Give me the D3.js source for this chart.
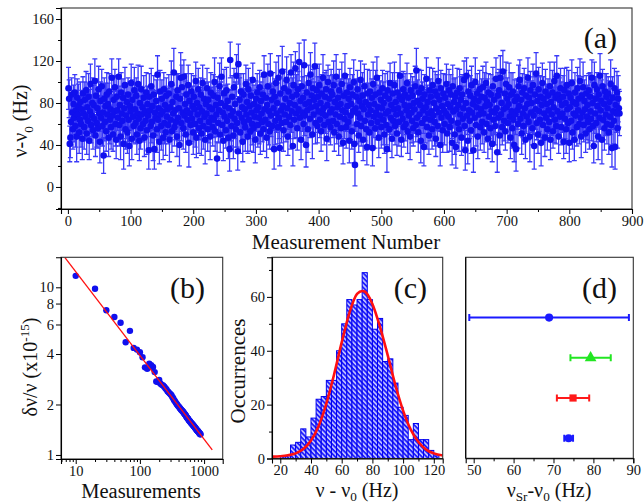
<!DOCTYPE html>
<html>
<head>
<meta charset="utf-8">
<script src="https://cdn.jsdelivr.net/npm/d3@7"></script>
<style>
  body { margin: 0; background: #fff; }
  svg text { font-family: "Liberation Serif", "DejaVu Serif", "Times New Roman", serif; }
</style>
</head>
<body>
<div id="chart"></div>
<script>
// ---------- (a) nu - nu0 for each measurement (Hz) and its error bar ----------
const freqA = [
  94, 84, 41, 47, 62, 88, 71, 55, 79, 66, 90, 58, 73, 48, 85, 69, 77, 52, 64, 81,
  60, 74, 46, 89, 70, 57, 83, 67, 92, 51, 76, 63, 86, 44, 72, 98, 59, 68, 80, 54,
  78, 65, 101, 49, 87, 61, 75, 56, 93, 70, 43, 82, 66, 96, 58, 71, 30, 84, 62, 77,
  53, 88, 69, 79, 47, 91, 64, 74, 57, 104, 68, 50, 83, 72, 95, 60, 45, 86, 73, 66,
  105, 59, 78, 48, 90, 70, 63, 85, 41, 75, 97, 55, 68, 81, 52, 88, 64, 39, 77, 72,
  99, 46, 83, 67, 58, 92, 74, 61, 87, 50, 70, 98, 65, 44, 80, 56, 93, 69, 76, 60,
  85, 47, 72, 63, 90, 54, 79, 68, 35, 86, 73, 58, 96, 62, 77, 49, 88, 36, 71, 66,
  82, 55, 107, 64, 75, 43, 91, 69, 58, 84, 72, 47, 93, 61, 78, 52, 87, 67, 74, 59,
  89, 45, 76, 64, 98, 53, 81, 70, 109, 57, 73, 62, 86, 48, 92, 66, 75, 40, 84, 104,
  61, 95, 71, 56, 105, 68, 79, 50, 88, 73, 64, 97, 42, 82, 70, 59, 91, 65, 77, 52,
  86, 74, 60, 101, 47, 80, 69, 93, 56, 76, 63, 88, 51, 72, 99, 58, 84, 67, 45, 79,
  70, 94, 55, 83, 62, 76, 48, 90, 66, 74, 57, 87, 64, 100, 53, 78, 69, 27, 85, 61,
  73, 96, 50, 80, 105, 59, 71, 44, 89, 67, 77, 54, 92, 63, 82, 47, 75, 36, 121, 68,
  58, 86, 72, 49, 95, 65, 79, 55, 106, 61, 34, 117, 70, 83, 52, 91, 66, 76, 43, 88,
  62, 74, 57, 98, 69, 81, 48, 93, 64, 77, 53, 87, 71, 60, 102, 56, 79, 67, 45, 84,
  73, 90, 59, 76, 66, 95, 51, 82, 70, 62, 88, 55, 107, 74, 64, 85, 47, 78, 96, 60,
  72, 53, 108, 68, 83, 58, 91, 75, 36, 86, 63, 99, 70, 80, 57, 104, 66, 37, 89, 73,
  61, 110, 77, 54, 94, 69, 84, 62, 102, 75, 48, 91, 67, 80, 59, 109, 72, 86, 39, 97,
  64, 78, 113, 70, 88, 56, 93, 74, 119, 66, 82, 45, 96, 71, 85, 60, 116, 68, 79, 40,
  90, 73, 55, 99, 81, 65, 107, 76, 87, 50, 94, 69, 83, 115, 61, 77, 92, 58, 86, 72,
  97, 64, 80, 53, 89, 70, 104, 75, 59, 86, 68, 93, 46, 78, 100, 62, 84, 71, 57, 91,
  74, 88, 63, 97, 52, 81, 69, 105, 60, 76, 85, 48, 92, 67, 79, 56, 98, 73, 42, 87,
  65, 106, 71, 57, 90, 77, 62, 84, 44, 95, 68, 79, 53, 88, 72, 100, 41, 21, 75, 86,
  60, 93, 70, 49, 82, 66, 102, 58, 77, 87, 45, 74, 96, 63, 81, 55, 38, 89, 69, 78,
  52, 91, 73, 61, 85, 37, 98, 67, 79, 56, 88, 71, 104, 62, 76, 47, 90, 68, 83, 57,
  75, 94, 64, 80, 50, 87, 70, 59, 36, 92, 72, 84, 55, 99, 66, 78, 46, 89, 63, 74,
  97, 58, 81, 69, 51, 90, 75, 62, 86, 106, 70, 45, 83, 65, 93, 57, 78, 88, 60, 73,
  99, 53, 85, 68, 77, 48, 92, 71, 63, 87, 56, 80, 74, 96, 59, 111, 66, 82, 52, 90,
  69, 78, 44, 94, 61, 84, 73, 38, 88, 65, 76, 103, 57, 81, 70, 49, 92, 64, 86, 72,
  55, 97, 68, 80, 62, 91, 46, 75, 87, 58, 101, 71, 83, 40, 94, 66, 77, 54, 89, 73,
  60, 85, 70, 98, 51, 79, 67, 92, 57, 76, 88, 63, 42, 96, 72, 81, 50, 86, 38, 74,
  90, 61, 78, 55, 94, 69, 83, 47, 88, 65, 75, 102, 58, 35, 80, 106, 68, 44, 91, 73,
  63, 87, 54, 97, 71, 79, 35, 84, 66, 100, 59, 76, 89, 48, 82, 69, 93, 57, 74, 86,
  62, 95, 70, 52, 85, 77, 99, 60, 81, 46, 90, 67, 78, 56, 88, 72, 41, 96, 64, 83,
  71, 58, 103, 75, 33, 87, 66, 92, 49, 104, 69, 80, 57, 110, 74, 63, 89, 53, 98, 76,
  84, 61, 79, 95, 67, 47, 88, 72, 56, 91, 64, 40, 82, 69, 36, 86, 73, 60, 96, 77,
  102, 65, 83, 51, 90, 70, 58, 94, 75, 45, 87, 67, 79, 104, 62, 85, 48, 92, 71, 80,
  56, 97, 68, 39, 88, 74, 108, 61, 82, 50, 93, 72, 64, 86, 42, 78, 99, 59, 84, 70,
  47, 91, 66, 79, 55, 87, 73, 62, 96, 45, 81, 69, 90, 53, 76, 101, 64, 85, 58, 106,
  72, 88, 48, 83, 67, 94, 57, 78, 70, 86, 43, 92, 65, 80, 55, 97, 74, 61, 89, 42,
  76, 85, 63, 99, 52, 81, 70, 45, 90, 68, 79, 57, 94, 73, 84, 60, 101, 66, 48, 87,
  71, 95, 59, 82, 74, 51, 89, 67, 78, 62, 92, 55, 86, 72, 65, 104, 80, 58, 39, 97,
  70, 84, 61, 93, 77, 48, 88, 66, 106, 73, 82, 45, 96, 64, 79, 56, 91, 69, 86, 60,
  75, 89, 52, 81, 67, 98, 59, 37, 85, 72, 63, 94, 38, 78, 70, 90, 56, 84, 75, 70
];
const errA = [
  20,18,17,19,22,16,21,19,18,23,17,20,19,24,18,16,21,20,17,19,22,18,20,16,19,21,17,23,18,20,19,16,22,18,21,19,17,20,24,18,
  19,17,21,20,16,23,18,19,22,17,20,18,21,16,19,25,17,20,18,22,19,21,16,20,18,17,23,19,21,18,20,16,22,19,17,21,18,20,19,23,
  17,20,18,22,19,16,21,18,24,20,17,19,22,18,20,16,21,19,23,17,18,20,19,21,16,22,18,20,17,19,25,18,21,19,16,20,22,18,19,17,
  21,18,20,16,19,23,17,20,18,22,19,21,17,20,16,24,18,19,21,17,20,22,18,19,16,21,20,17,23,18,19,21,16,20,18,22,17,19,20,18,
  18,21,19,17,22,20,16,19,23,18,20,17,21,19,16,22,18,20,19,24,17,21,18,20,16,19,22,17,20,18,21,19,23,16,20,18,17,22,19,21,
  20,16,22,18,19,21,17,20,24,19,18,16,21,20,17,22,19,18,23,20,16,19,21,17,20,18,22,19,16,21,18,20,17,23,19,18,21,16,20,19,
  19,22,17,20,18,16,21,19,23,18,20,17,22,19,16,20,18,21,17,24,19,20,16,22,18,19,21,17,20,23,18,19,16,21,20,17,22,18,19,20,
  17,20,23,18,19,21,16,20,18,22,19,17,21,20,16,23,18,19,22,17,20,18,21,19,25,16,20,18,22,19,17,21,18,20,16,23,19,18,21,20,
  21,17,19,20,16,22,18,21,19,17,23,20,18,19,16,21,20,17,22,18,19,24,16,20,18,21,17,19,22,20,18,16,21,19,23,17,20,18,19,22,
  18,20,16,23,19,21,17,20,18,22,16,19,21,18,20,17,24,19,18,21,16,20,22,17,19,18,21,20,16,23,18,19,17,22,20,18,21,16,19,20,
  20,17,21,19,18,16,22,20,19,23,17,18,21,20,16,19,22,18,17,21,20,19,16,23,18,20,17,21,19,22,16,18,20,19,24,17,21,18,20,16,
  19,21,18,20,17,22,16,19,21,18,23,20,17,19,16,21,18,20,22,17,19,18,21,16,20,23,18,19,17,22,20,16,21,19,18,20,17,23,19,21,
  16,20,19,22,18,17,21,20,16,19,23,18,20,17,21,19,16,22,18,20,19,17,24,20,18,21,16,19,22,18,20,17,21,19,16,23,18,20,19,17,
  22,18,20,16,21,19,17,23,18,20,19,16,22,21,17,19,18,20,16,23,19,21,17,18,20,22,16,19,21,18,17,20,23,19,16,21,18,20,19,22,
  18,19,21,17,20,16,22,18,19,23,17,20,21,16,19,18,22,20,17,21,19,16,20,18,23,19,17,21,20,16,22,18,19,20,17,24,18,21,19,16,
  20,22,17,19,18,21,16,20,23,18,19,17,21,20,16,22,19,18,20,17,23,19,16,21,18,20,22,17,19,16,21,18,20,19,23,17,18,22,20,19,
  17,19,22,18,20,16,21,19,18,23,20,17,19,21,16,20,18,22,19,17,21,20,16,19,24,18,20,17,22,19,18,21,16,20,19,23,17,18,21,20,
  21,18,20,17,19,22,16,20,18,21,19,23,17,20,16,19,22,18,21,17,20,19,16,23,18,20,21,17,19,18,22,16,20,19,21,17,18,23,20,19,
  19,16,21,20,18,23,17,19,22,18,20,16,21,19,17,20,24,18,19,21,16,20,18,22,17,19,20,16,23,18,21,19,17,20,22,18,19,16,21,20,
  18,21,17,19,20,16,22,18,23,19,17,20,21,16,19,18,22,20,17,19,23,18,16,21,20,19,17,22,18,20,16,21,19,18,23,17,20,19,22,18,
  20,17,19,22,16,21,18,20,19,23,17,18,20,16,22,19,21,17,20,18,19,24,16,20,21,18,17,22,19,20,16,19,23,18,21,17,20,19,16,22,
  19,21,18,16,20,22,17,19,21,18,20,23,16,19,18,21,17,20,22,19,18,16,21,20,17,23,19,18,20,16,22,19,21,17,18,20,19,22,18,21
];

// ---------- (b) fractional instability vs number of measurements ----------
const nB = [10, 20, 30, 40, 50, 60, 70, 80, 90, 100, 110, 120, 130, 140, 150, 160, 170, 180, 190, 200,
  210, 220, 230, 240, 250, 260, 270, 280, 290, 300, 310, 320, 330, 340, 350, 360, 370, 380, 390, 400,
  410, 420, 430, 440, 450, 460, 470, 480, 490, 500, 510, 520, 530, 540, 550, 560, 570, 580, 590, 600,
  610, 620, 630, 640, 650, 660, 670, 680, 690, 700, 710, 720, 730, 740, 750, 760, 770, 780, 790, 800,
  810, 820, 830, 840, 850, 860, 870, 880];
const sigB = [11.7, 9.8, 7.3, 6.65, 6.15, 4.7, 5.5, 4.35, 4.25, 4.1, 3.83, 3.33, 3.27, 3.5, 3.43, 3.35, 3.12, 2.74, 2.72, 2.8,
  2.66, 2.62, 2.6, 2.55, 2.5, 2.46, 2.4, 2.37, 2.33, 2.3, 2.27, 2.22, 2.18, 2.13, 2.1, 2.06, 2.03, 2.0, 1.97, 1.95,
  1.93, 1.9, 1.88, 1.86, 1.84, 1.83, 1.81, 1.79, 1.77, 1.75, 1.74, 1.72, 1.69, 1.67, 1.66, 1.65, 1.63, 1.61, 1.6, 1.59,
  1.58, 1.56, 1.55, 1.54, 1.53, 1.52, 1.51, 1.5, 1.49, 1.48, 1.47, 1.46, 1.45, 1.44, 1.43, 1.42, 1.41, 1.4, 1.39, 1.39,
  1.38, 1.37, 1.36, 1.35, 1.35, 1.34, 1.33, 1.33];
const fitBN = [6.8, 1340];
const fitBSig = [15.05, 1.071];

// ---------- (c) histogram ----------
const binEdges = [20, 23.33, 26.67, 30, 33.33, 36.67, 40, 43.33, 46.67, 50, 53.33, 56.67, 60, 63.33, 66.67, 70,
  73.33, 76.67, 80, 83.33, 86.67, 90, 93.33, 96.67, 100, 103.33, 106.67, 110, 113.33, 116.67, 120, 123.33];
const binCounts = [1, 1, 5, 6, 11, 8, 15, 22, 23, 29, 29, 40, 50, 59, 57, 59, 69, 59, 48, 52, 36, 37, 28, 19, 16, 7, 13, 7, 7, 3, 1];
const fitCX = [15, 20, 25, 30, 35, 40, 45, 50, 55, 60, 65, 70, 73.5, 75, 80, 85, 90, 95, 100, 105, 110, 115, 120, 126];
const fitCY = [0.7, 0.86, 1.2, 1.9, 3.5, 6.7, 12.1, 20.4, 31.1, 43.1, 54, 61.1, 62.2, 62, 57.4, 48.8, 38.3, 27.2, 17.8, 10.7, 6.1, 3.3, 1.9, 1.1];

// ---------- (d) comparison of nu_Sr - nu0 ----------
const dVal = [68.9, 79.3, 74.9, 73.8];
const dErr = [20, 5.05, 4.05, 1.1];
const dLevel = [4, 3, 2, 1];
const dColor = ["#1a1aff", "#22e622", "#ff1a1a", "#1a1aff"];
const dShape = [d3.symbolCircle, d3.symbolTriangle, d3.symbolSquare, d3.symbolCircle];

const width = 644, height = 504;
const blue = "#1010ee";

const svg = d3.select("#chart").append("svg")
  .attr("width", width).attr("height", height)
  .style("background", "#fff");
const defs = svg.append("defs");

const clip = (id, x0, x1, y0, y1) =>
  defs.append("clipPath").attr("id", id).append("rect")
    .attr("x", x0).attr("y", y0).attr("width", x1 - x0).attr("height", y1 - y0);

const frame = (x0, x1, y0, y1) =>
  svg.append("rect").attr("x", x0).attr("y", y0).attr("width", x1 - x0).attr("height", y1 - y0)
    .attr("fill", "none").attr("stroke", "#333").attr("stroke-width", 1.1);

// draws one axis with major labelled ticks and optional small minor ticks
const axis = (orient, scale, at, major, minor, fmt) => {
  const mk = orient === "left" ? d3.axisLeft : d3.axisBottom;
  const tr = orient === "left" ? `translate(${at},0)` : `translate(0,${at})`;
  if (minor) {
    svg.append("g").attr("transform", tr)
      .call(mk(scale).tickValues(minor).tickSize(3).tickFormat(""))
      .call((g) => g.select(".domain").remove())
      .call((g) => g.selectAll("line").attr("stroke", "#000"));
  }
  const g = svg.append("g").attr("transform", tr)
    .call(mk(scale).tickValues(major).tickSize(5).tickPadding(orient === "left" ? 2 : 1.5).tickFormat(fmt));
  g.attr("font-family", null).attr("font-size", 14.5);
  g.select(".domain").attr("stroke", "#000").attr("stroke-width", 1.1);
  g.selectAll(".tick line").attr("stroke", "#000");
  g.selectAll(".tick text").attr("fill", "#111");
  return g;
};

// text with sub/superscript parts: [string, 0 | "sub" | "sup"]
const rich = (parts, x, y, size, rotate, subShift = 0.3) => {
  const t = svg.append("text")
    .attr("transform", `translate(${x},${y})${rotate ? " rotate(-90)" : ""}`)
    .attr("text-anchor", "middle")
    .attr("font-size", size).attr("fill", "#111");
  let shift = 0;
  parts.forEach(([s, kind]) => {
    const want = kind === "sub" ? size * subShift : kind === "sup" ? -size * 0.38 : 0;
    t.append("tspan").attr("dy", want - shift)
      .attr("font-size", kind ? size * 0.66 : size).text(s);
    shift = want;
  });
  return t;
};

const panelTag = (s, x, y) =>
  svg.append("text").attr("x", x).attr("y", y).attr("text-anchor", "end")
    .attr("font-size", 30).attr("fill", "#111").text(s);

// ================= panel (a) =================
const A = { l: 61, r: 632, t: 8, b: 209 };
const ax = d3.scaleLinear().domain([-11, 900]).range([A.l, A.r]);
const ay = d3.scaleLinear().domain([-21, 170.5]).range([A.b, A.t]);
clip("clipA", A.l, A.r, A.t, A.b);

const gA = svg.append("g").attr("clip-path", "url(#clipA)");
gA.append("g").selectAll("path").data(freqA).join("path")
  .attr("d", (d, i) => {
    const e = errA[i] ?? 19, x = ax(i + 1), y0 = ay(d - e), y1 = ay(d + e);
    return `M${x},${y0}V${y1}M${x - 2.5},${y0}h5M${x - 2.5},${y1}h5`;
  })
  .attr("fill", "none").attr("stroke", "#3a3af8").attr("stroke-width", 1.3);
gA.append("g").selectAll("circle").data(freqA).join("circle")
  .attr("cx", (d, i) => ax(i + 1)).attr("cy", (d) => ay(d)).attr("r", 3.3)
  .attr("fill", blue);

frame(A.l, A.r, A.t, A.b);
axis("left", ay, A.l, [0, 40, 80, 120, 160], [-20, 20, 60, 100, 140], d3.format("d"));
axis("bottom", ax, A.b, d3.range(0, 901, 100), d3.range(50, 900, 100), d3.format("d"));
rich([["ν-ν", 0], ["0", "sub"], [" (Hz)", 0]], 27, 121, 20, true);
svg.append("text").attr("x", 346).attr("y", 249).attr("text-anchor", "middle")
  .attr("font-size", 21).attr("fill", "#111").text("Measurement Number");
panelTag("(a)", 617, 47.5);

// ================= panel (b) =================
const B = { l: 61, r: 222.7, t: 257.3, b: 459 };
const bx = d3.scaleLog().domain([5.9, 1950]).range([B.l, B.r]);
const by = d3.scaleLog().domain([0.946, 15.1]).range([B.b, B.t]);
clip("clipB", B.l, B.r, B.t, B.b);
const gB = svg.append("g").attr("clip-path", "url(#clipB)");
gB.append("g").selectAll("circle").data(sigB).join("circle")
  .attr("cx", (d, i) => bx(nB[i])).attr("cy", (d) => by(d)).attr("r", 3.2)
  .attr("fill", blue);
gB.append("path")
  .datum(fitBN.map((n, i) => [n, fitBSig[i]]))
  .attr("d", d3.line().x((d) => bx(d[0])).y((d) => by(d[1])))
  .attr("fill", "none").attr("stroke", "#ff1010").attr("stroke-width", 1.3);
frame(B.l, B.r, B.t, B.b);
axis("left", by, B.l, [1, 2, 4, 6, 8, 10], null, d3.format("d"));
axis("bottom", bx, B.b, [10, 100, 1000],
  [6, 7, 8, 9, 20, 30, 40, 50, 60, 70, 80, 90, 200, 300, 400, 500, 600, 700, 800, 900], d3.format("d"));
rich([["δν/ν (x10", 0], ["-15", "sup"], [")", 0]], 37, 367, 20, true);
svg.append("text").attr("x", 141).attr("y", 498).attr("text-anchor", "middle")
  .attr("font-size", 20.5).attr("fill", "#111").text("Measurements");
panelTag("(b)", 205, 297.5);

// ================= panel (c) =================
const C = { l: 272, r: 442.7, t: 257.3, b: 458.5 };
const cx = d3.scaleLinear().domain([14.6, 125.8]).range([C.l, C.r]);
const cy = d3.scaleLinear().domain([0, 74.7]).range([C.b, C.t]);
clip("clipC", C.l, C.r, C.t, C.b);

const pat = defs.append("pattern").attr("id", "hatch")
  .attr("patternUnits", "userSpaceOnUse").attr("width", 3.4).attr("height", 3.4)
  .attr("patternTransform", "rotate(-45)");
pat.append("rect").attr("width", 3.4).attr("height", 3.4).attr("fill", "#1e1eff");
pat.append("line").attr("x1", 0.8).attr("y1", 0).attr("x2", 0.8).attr("y2", 3.4)
  .attr("stroke", "#fff").attr("stroke-width", 1.2);

const gC = svg.append("g").attr("clip-path", "url(#clipC)");
gC.append("g").selectAll("rect").data(binCounts).join("rect")
  .attr("x", (d, i) => cx(binEdges[i]))
  .attr("width", (d, i) => cx(binEdges[i + 1]) - cx(binEdges[i]))
  .attr("y", (d) => cy(d)).attr("height", (d) => cy(0) - cy(d))
  .attr("fill", "url(#hatch)").attr("stroke", "#0000ee").attr("stroke-width", 1);
gC.append("path")
  .datum(fitCX.map((x, i) => [x, fitCY[i]]))
  .attr("d", d3.line().x((d) => cx(d[0])).y((d) => cy(d[1])).curve(d3.curveMonotoneX))
  .attr("fill", "none").attr("stroke", "#ff1010").attr("stroke-width", 2.6);
frame(C.l, C.r, C.t, C.b);
axis("left", cy, C.l, [0, 20, 40, 60], [10, 30, 50, 70], d3.format("d"));
axis("bottom", cx, C.b, [20, 40, 60, 80, 100, 120], [30, 50, 70, 90, 110], d3.format("d"));
rich([["Occurrences", 0]], 245, 371, 21, true);
rich([["ν - ν", 0], ["0", "sub"], [" (Hz)", 0]], 357, 496.5, 20, false, 0.22);
panelTag("(c)", 427, 297.5);

// ================= panel (d) =================
const D = { l: 465.7, r: 633.3, t: 257.3, b: 458.3 };
const dx = d3.scaleLinear().domain([48, 90]).range([D.l, D.r]);
const dy = d3.scaleLinear().domain([0.5, 5.5]).range([D.b, D.t]);
const gD = svg.append("g");
gD.selectAll("path.err").data(dVal).join("path").attr("class", "err")
  .attr("d", (d, i) => {
    const y = dy(dLevel[i]), x0 = dx(d - dErr[i]), x1 = dx(d + dErr[i]);
    return `M${x0},${y}H${x1}M${x0},${y - 3.5}v7M${x1},${y - 3.5}v7`;
  })
  .attr("fill", "none").attr("stroke", (d, i) => dColor[i]).attr("stroke-width", 2);
gD.selectAll("path.mk").data(dVal).join("path").attr("class", "mk")
  .attr("transform", (d, i) => `translate(${dx(d)},${dy(dLevel[i])})`)
  .attr("d", (d, i) => d3.symbol().type(dShape[i]).size(i === 1 ? 60 : 52)())
  .attr("fill", (d, i) => dColor[i]);
frame(D.l, D.r, D.t, D.b);
svg.append("line").attr("x1", D.l).attr("x2", D.l).attr("y1", D.t).attr("y2", D.b)
  .attr("stroke", "#000").attr("stroke-width", 1.1);
axis("bottom", dx, D.b, [50, 60, 70, 80, 90], [55, 65, 75, 85], d3.format("d"));
rich([["ν", 0], ["Sr", "sub"], ["-ν", 0], ["0", "sub"], [" (Hz)", 0]], 549, 496.5, 20, false, 0.22);
panelTag("(d)", 617, 297.5);
</script>
</body>
</html>
